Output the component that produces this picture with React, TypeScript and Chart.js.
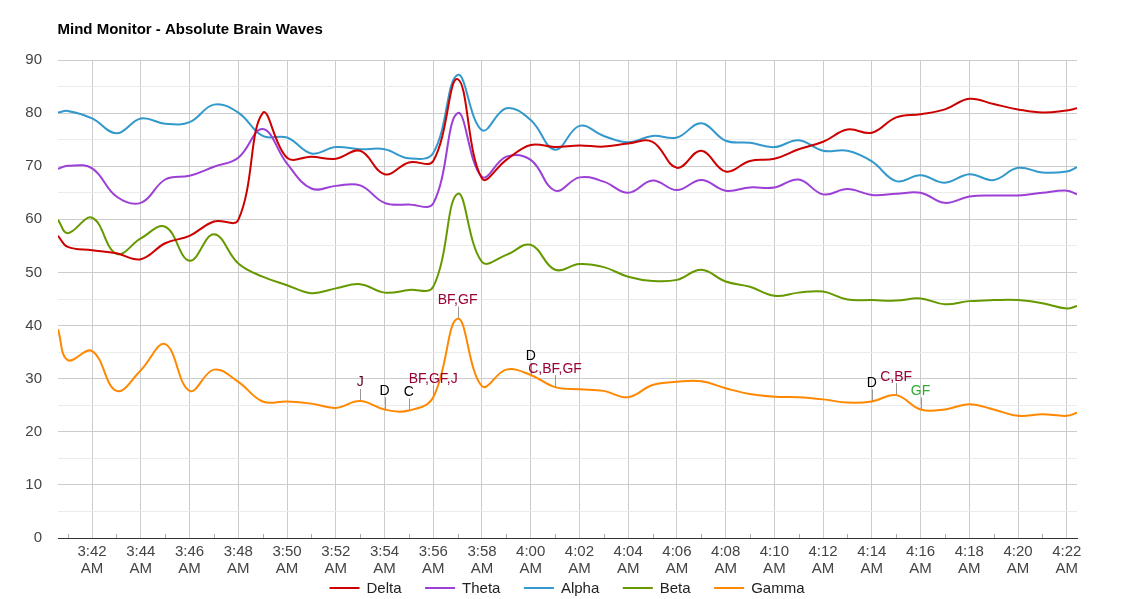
import React, { useEffect, useRef } from 'react';
import { Chart, registerables } from 'chart.js';

Chart.register(...registerables);

// Minutes after 3:00 AM
const minutes = [
  40.6, 41, 42, 43, 44, 45, 46, 47, 48, 49, 50, 51, 52, 53, 54, 55, 56, 57, 58, 59, 60,
  61, 62, 63, 64, 65, 66, 67, 68, 69, 70, 71, 72, 73, 74, 75, 76, 77, 78, 79, 80, 81, 82, 82.42,
];

const delta = [
  56.9, 54.8, 54.2, 53.6, 52.5, 55.5, 56.9, 59.6, 59.9, 80.0, 71.6, 71.8, 71.4, 72.9, 68.5, 70.7, 71.0, 86.4, 67.7, 71.2, 74.0,
  73.6, 73.9, 73.7, 74.3, 74.6, 69.7, 72.9, 69.0, 71.0, 71.4, 73.2, 74.6, 76.9, 76.3, 79.2, 79.8, 80.7, 82.7, 81.7, 80.7, 80.1, 80.5, 80.9,
];
const theta = [
  69.5, 70.1, 69.6, 64.3, 63.1, 67.5, 68.2, 69.9, 71.6, 77.0, 70.5, 65.8, 66.3, 66.4, 63.1, 62.8, 63.0, 80.0, 68.0, 71.8, 71.2,
  65.4, 67.9, 67.1, 65.0, 67.3, 65.5, 67.4, 65.4, 66.0, 66.0, 67.5, 64.7, 65.7, 64.6, 64.8, 65.0, 63.1, 64.3, 64.5, 64.5, 65.0, 65.4, 64.7,
];
const alpha = [
  80.1, 80.4, 79.0, 76.2, 79.0, 78.0, 78.3, 81.6, 80.1, 75.7, 75.4, 72.4, 73.6, 73.2, 73.2, 71.5, 72.5, 87.2, 76.8, 80.9, 78.7,
  73.1, 77.6, 75.7, 74.5, 75.7, 75.4, 78.1, 74.8, 74.4, 73.6, 74.9, 72.9, 72.9, 70.9, 67.2, 68.3, 66.9, 68.5, 67.4, 69.7, 68.8, 69.0, 69.8,
];
const beta = [
  59.9, 57.4, 60.3, 53.5, 56.4, 58.6, 52.2, 57.2, 51.7, 49.2, 47.6, 46.1, 47.0, 47.8, 46.2, 46.7, 47.3, 64.8, 52.0, 53.3, 55.2,
  50.5, 51.6, 51.0, 49.2, 48.4, 48.6, 50.5, 48.3, 47.3, 45.6, 46.2, 46.4, 44.9, 44.8, 44.7, 45.1, 44.0, 44.6, 44.8, 44.8, 44.2, 43.2, 43.7,
];
const gamma = [
  39.3, 33.5, 35.2, 27.7, 31.6, 36.5, 27.7, 31.7, 29.4, 25.7, 25.7, 25.3, 24.5, 25.8, 24.2, 24.0, 26.5, 41.3, 28.6, 31.7, 30.7,
  28.4, 28.0, 27.7, 26.5, 28.8, 29.4, 29.5, 28.2, 27.1, 26.6, 26.5, 26.1, 25.5, 25.7, 26.9, 24.2, 24.2, 25.2, 24.2, 23.0, 23.3, 23.0, 23.6,
];

const seriesNames = ['Delta', 'Theta', 'Alpha', 'Beta', 'Gamma'];
const seriesColors = ['#cc0000', '#9c3fd6', '#3399cc', '#669900', '#ff8800'];

const tickMinutes = [42, 44, 46, 48, 50, 52, 54, 56, 58, 60, 62, 64, 66, 68, 70, 72, 74, 76, 78, 80, 82];
const tickLabels = [
  '3:42 AM', '3:44 AM', '3:46 AM', '3:48 AM', '3:50 AM', '3:52 AM', '3:54 AM', '3:56 AM', '3:58 AM', '4:00 AM',
  '4:02 AM', '4:04 AM', '4:06 AM', '4:08 AM', '4:10 AM', '4:12 AM', '4:14 AM', '4:16 AM', '4:18 AM', '4:20 AM', '4:22 AM',
];
const minorTickMinutes = [41, 43, 45, 47, 49, 51, 53, 55, 57, 59, 61, 63, 65, 67, 69, 71, 73, 75, 77, 79, 81];

const annotationMinutes = [53, 54, 55, 56, 57, 60, 61, 74, 75, 76];
const annotationTexts = ['J', 'D', 'C', 'BF,GF,J', 'BF,GF', 'D', 'C,BF,GF', 'D', 'C,BF', 'GF'];
const annotationColors = ['#5a0020', '#000000', '#000000', '#990033', '#990033', '#000000', '#990033', '#000000', '#990033', '#33aa33'];

const TITLE = 'Mind Monitor - Absolute Brain Waves';
const FONT = 'Arial, "Liberation Sans", sans-serif';

const decorPlugin = {
  id: 'decor',
  beforeDatasetsDraw(chart: any) {
    const ctx = chart.ctx;
    const meta = chart.getDatasetMeta(4);
    ctx.save();
    ctx.strokeStyle = '#999999';
    ctx.lineWidth = 1;
    annotationMinutes.forEach((m) => {
      const idx = minutes.indexOf(m);
      const pt = meta.data[idx];
      if (!pt) return;
      const x = Math.round(pt.x) + 0.5;
      ctx.beginPath();
      ctx.moveTo(x, pt.y);
      ctx.lineTo(x, pt.y - 12);
      ctx.stroke();
    });
    // minor ticks at odd minutes
    const xs = chart.scales.x;
    const bottom = chart.chartArea.bottom;
    ctx.strokeStyle = '#aaaaaa';
    minorTickMinutes.forEach((m) => {
      const x = Math.round(xs.getPixelForValue(m)) + 0.5;
      ctx.beginPath();
      ctx.moveTo(x, bottom);
      ctx.lineTo(x, bottom - 4);
      ctx.stroke();
    });
    ctx.restore();
  },
  afterDatasetsDraw(chart: any) {
    const ctx = chart.ctx;
    const meta = chart.getDatasetMeta(4);
    ctx.save();
    ctx.font = '14px ' + FONT;
    ctx.textAlign = 'center';
    ctx.textBaseline = 'alphabetic';
    annotationMinutes.forEach((m, i) => {
      const idx = minutes.indexOf(m);
      const pt = meta.data[idx];
      if (!pt) return;
      ctx.fillStyle = annotationColors[i];
      ctx.fillText(annotationTexts[i], pt.x, pt.y - 14.5);
    });
    ctx.restore();
  },
  afterDraw(chart: any) {
    const ctx = chart.ctx;
    const area = chart.chartArea;
    ctx.save();
    // title
    ctx.font = 'bold 15px ' + FONT;
    ctx.fillStyle = '#000000';
    ctx.textAlign = 'left';
    ctx.textBaseline = 'alphabetic';
    ctx.fillText(TITLE, area.left - 0.5, 34);
    // legend
    ctx.font = '15px ' + FONT;
    const markerW = 30;
    const gap = 7;
    const itemGap = 23.5;
    const items = chart.data.datasets.map((ds: any) => ({ label: ds.label, color: ds.borderColor }));
    const widths = items.map((it: any) => markerW + gap + ctx.measureText(it.label).width);
    const total = widths.reduce((a: number, b: number) => a + b, 0) + itemGap * (items.length - 1);
    let x = (chart.width - total) / 2;
    const y = 588;
    items.forEach((it: any, i: number) => {
      ctx.fillStyle = it.color;
      ctx.fillRect(x, y - 1, markerW, 2);
      ctx.fillStyle = '#222222';
      ctx.fillText(it.label, x + markerW + gap, 593.3);
      x += widths[i] + itemGap;
    });
    ctx.restore();
  },
};

export default function App() {
  const canvasRef = useRef<HTMLCanvasElement | null>(null);

  useEffect(() => {
    document.body.style.margin = '0';
    const canvas = canvasRef.current;
    if (!canvas) return;
    const series = [delta, theta, alpha, beta, gamma];
    const chart = new Chart(canvas, {
      type: 'line',
      data: {
        datasets: series.map((vals, si) => ({
          label: seriesNames[si],
          data: minutes.map((m, i) => ({ x: m, y: vals[i] })),
          borderColor: seriesColors[si],
          backgroundColor: seriesColors[si],
          borderWidth: 2,
          pointRadius: 0,
          pointHoverRadius: 0,
          tension: 0.4,
          fill: false,
        })),
      },
      options: {
        animation: false,
        responsive: false,
        devicePixelRatio: 1,
        layout: { padding: { top: 60, right: 57, left: 0, bottom: 0 } },
        plugins: {
          legend: { display: false },
          title: { display: false },
          tooltip: { enabled: false },
        },
        scales: {
          x: {
            type: 'linear',
            min: minutes[0],
            max: minutes[minutes.length - 1],
            afterBuildTicks: (scale: any) => {
              scale.ticks = tickMinutes.map((v) => ({ value: v }));
            },
            afterFit: (scale: any) => {
              scale.height = 61;
            },
            grid: {
              color: '#cccccc',
              lineWidth: 1,
              drawTicks: false,
            },
            border: { color: '#333333', width: 1 },
            ticks: {
              autoSkip: false,
              maxRotation: 0,
              minRotation: 0,
              padding: 5,
              color: '#444444',
              font: { family: FONT, size: 15, lineHeight: 1.17 },
              callback: (value: any) => {
                const i = tickMinutes.indexOf(Number(value));
                return i >= 0 ? tickLabels[i].split(' ') : '';
              },
            },
          },
          y: {
            min: 0,
            max: 90,
            afterFit: (scale: any) => {
              scale.width = 58;
            },
            grid: {
              drawTicks: false,
              lineWidth: 1,
              color: (c: any) => {
                const v = c.tick ? c.tick.value : 0;
                if (v === 0) return '#333333';
                return v % 10 === 0 ? '#cccccc' : '#ebebeb';
              },
            },
            border: { display: false },
            ticks: {
              stepSize: 5,
              padding: 16,
              color: '#444444',
              font: { family: FONT, size: 15 },
              callback: (value: any) => (Number(value) % 10 === 0 ? String(value) : ''),
            },
          },
        },
      },
      plugins: [decorPlugin],
    } as any);
    return () => chart.destroy();
  }, []);

  return (
    <div style={{ width: 1134, height: 599, background: '#ffffff' }}>
      <canvas ref={canvasRef} width={1134} height={599} style={{ display: 'block' }} />
    </div>
  );
}
